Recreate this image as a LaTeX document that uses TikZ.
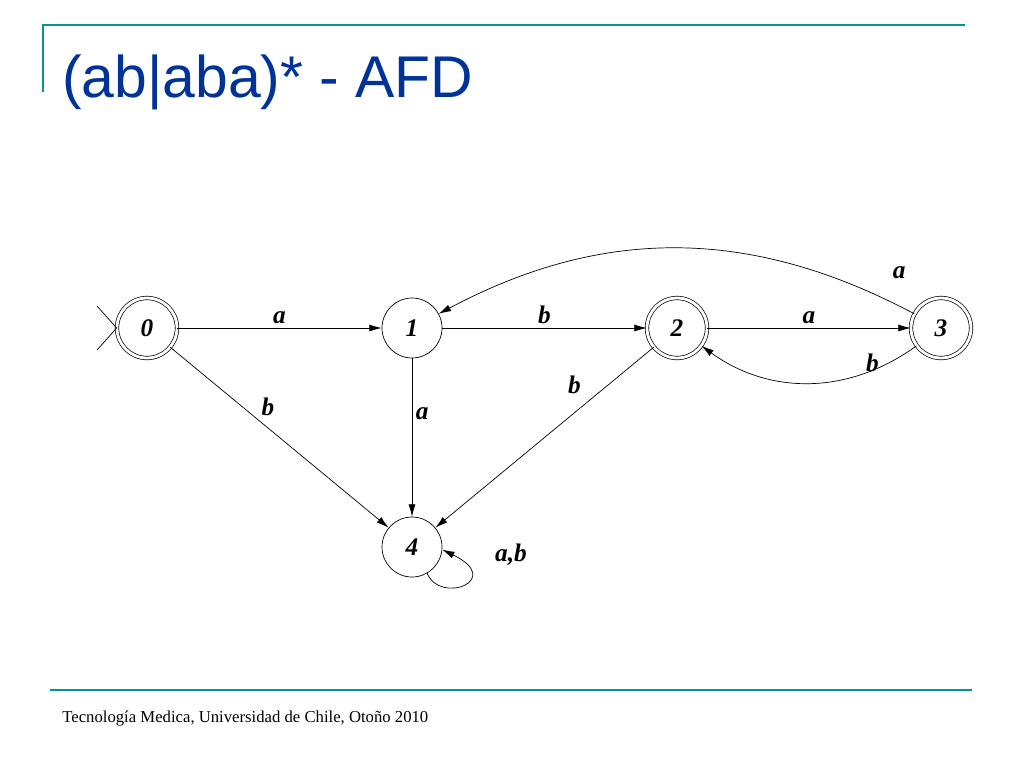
\documentclass[tikz,border=0pt]{standalone}
\usepackage{fontspec}
\setmainfont{Liberation Serif}
\setsansfont{Liberation Sans}
\usetikzlibrary{arrows.meta}
\definecolor{rulecol}{RGB}{0,150,150}
\definecolor{titlecol}{RGB}{0,51,153}
\begin{document}
\begin{tikzpicture}[x=0.02cm,y=-0.02cm]
\tikzstyle{state}=[draw,circle,thin,minimum size=60*0.02cm,inner sep=0pt,font=\Large\bfseries\itshape]
\tikzstyle{accept}=[state,double,double distance=1.6pt]
\tikzstyle{lbl}=[font=\Large\bfseries\itshape,inner sep=2pt]
\tikzstyle{edge}=[-{Latex[length=7pt,width=4pt]},thin]
\useasboundingbox (0,0) rectangle (1024,768);
% slide frame
\draw [rulecol,line width=1.5pt] (42,25) -- (965,25);
\draw [rulecol,line width=1.5pt] (43,25) -- (43,92);
\draw [rulecol,line width=1.5pt] (50,690) -- (972,690);
\node [anchor=base west,text=titlecol,font=\sffamily\fontsize{33.5}{40}\selectfont,inner sep=0pt] (title) at (62,97) {(ab|aba)* - AFD};
\node [anchor=base west,font=\fontsize{9.5}{12}\selectfont,inner sep=0pt] (foot) at (62,722) {Tecnología Medica, Universidad de Chile, Otoño 2010};
% states
\node [accept] (q0) at (147,328) {0};
\node [state] (q1) at (412,328) {1};
\node [accept] (q2) at (677,328) {2};
\node [accept] (q3) at (941,328) {3};
\node [state] (q4) at (412,547) {4};
% start marker
\coordinate (s1) at (97,306);
\coordinate (s2) at (97,350);
\draw [thin] (s1) -- (q0.west);
\draw [thin] (s2) -- (q0.west);
% transitions
\draw [edge] (q0) -- node [lbl,above] {a} (q1);
\draw [edge] (q1) -- node [lbl,above] {b} (q2);
\draw [edge] (q2) -- node [lbl,above] {a} (q3);
\draw [edge] (q3) to [bend right=28] node [lbl,pos=0,xshift=-0.3cm,yshift=0.82cm] {a} (q1);
\draw [edge] (q3) to [bend left=36] node [lbl,pos=0,xshift=-0.88cm,yshift=-0.34cm] {b} (q2);
\draw [edge] (q0) -- node [lbl,above right,pos=0.4] {b} (q4);
\draw [edge] (q1) -- node [lbl,right,pos=0.35] {a} (q4);
\draw [edge] (q2) -- node [lbl,above left=2pt,pos=0.3] {b} (q4);
\draw [edge] (q4.-60) .. controls (440,605) and (505,580) .. (q4.-5);
\node [lbl] (loop) at (511,555) {a,b};
\end{tikzpicture}
\end{document}
